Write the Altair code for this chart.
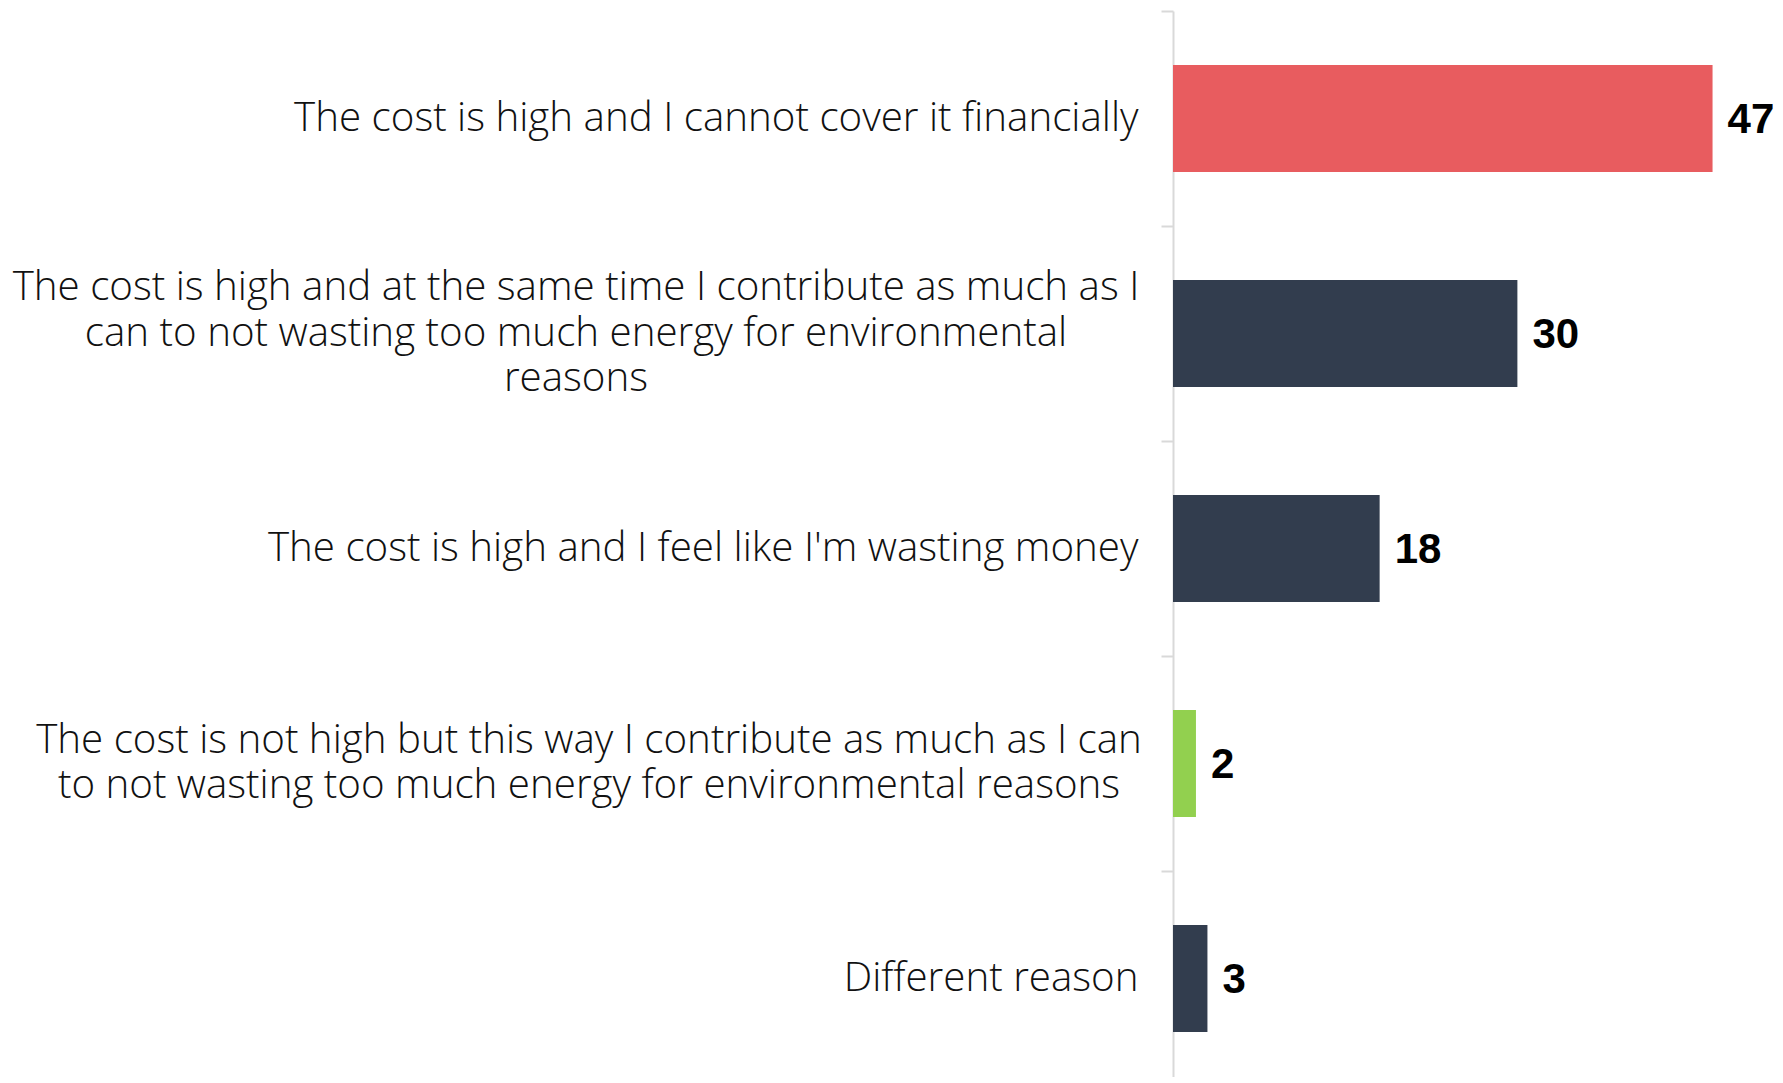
import altair as alt
import pandas as pd

categories = [
    "The cost is high and I cannot cover it financially",
    "The cost is high and at the same time I contribute as much as I|can to not wasting too much energy for environmental|reasons",
    "The cost is high and I feel like I'm wasting money",
    "The cost is not high but this way I contribute as much as I can|to not wasting too much energy for environmental reasons",
    "Different reason",
]
values = [47, 30, 18, 2, 3]
colors = ["#E85C5F", "#323D4E", "#323D4E", "#92D04F", "#323D4E"]

df = pd.DataFrame({"category": categories, "value": values, "color": colors})

LABEL_FONT = dict(font="Open Sans", fontSize=40.3, fontWeight=300, color="#111111")

y_enc = alt.Y(
    "category:N",
    sort=categories,
    title=None,
    scale=alt.Scale(range=[0, 1075], paddingInner=0, paddingOuter=0),
    axis=alt.Axis(
        domainColor="#D9D9D9",
        domainWidth=2,
        tickColor="#D9D9D9",
        tickWidth=2,
        tickSize=12,
        tickBand="extent",
        labelFont="Open Sans",
        labelFontSize=40.3,
        labelFontWeight=300,
        labelColor="#111111",
        labelLimit=0,
        labelPadding=23,
        labelBaseline="middle",
        labelAlign="right",
        labelExpr="indexof(datum.label, '|') >= 0 ? '' : datum.label",
        grid=False,
    ),
)

x_enc = alt.X("value:Q", scale=alt.Scale(domain=[0, 52.44], nice=False), axis=None)

bars = alt.Chart(df).mark_bar(size=107).encode(
    y=y_enc,
    x=x_enc,
    color=alt.Color("color:N", scale=None, legend=None),
)

values_text = alt.Chart(df).mark_text(
    align="left",
    baseline="middle",
    dx=15,
    dy=1,
    font="Liberation Sans",
    fontSize=42,
    fontWeight="bold",
    color="#000000",
).encode(
    y=alt.Y("category:N", sort=categories),
    x="value:Q",
    text=alt.Text("value:Q"),
)

# wrapped category labels, each block centred like the original
wrap_a = alt.Chart(df).transform_filter(
    "indexof(datum.category, 'same time') >= 0"
).mark_text(
    align="center", baseline="middle", lineBreak="|", lineHeight=45.5,
    dx=-597, dy=-45.5, **LABEL_FONT,
).encode(
    y=alt.Y("category:N", sort=categories),
    x=alt.value(0),
    text="category:N",
)

wrap_b = alt.Chart(df).transform_filter(
    "indexof(datum.category, 'not high') >= 0"
).mark_text(
    align="center", baseline="middle", lineBreak="|", lineHeight=45.5,
    dx=-584, dy=-23, **LABEL_FONT,
).encode(
    y=alt.Y("category:N", sort=categories),
    x=alt.value(0),
    text="category:N",
)

chart = (
    alt.layer(bars, values_text, wrap_a, wrap_b)
    .properties(
        width=1767,
        height=1069,
        autosize=alt.AutoSizeParams(type="none", contains="padding"),
        padding={"left": 1165, "top": 3, "right": 0, "bottom": 0},
        background="white",
    )
    .configure_view(stroke=None)
)

chart.save("out.html", embed_options={"renderer": "svg", "actions": False})
